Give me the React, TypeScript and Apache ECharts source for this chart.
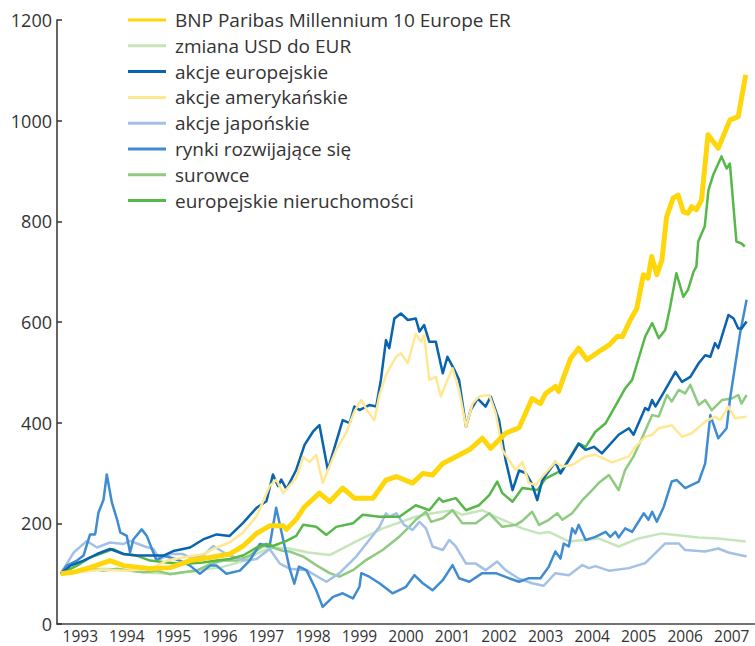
import React, { useEffect, useRef } from "react";
import * as echarts from "echarts";

const yearLabels = ["1993","1994","1995","1996","1997","1998","1999","2000","2001","2002","2003","2004","2005","2006","2007"];

const bnp: number[][] = [[1993.08,100],[1993.4,104],[1993.71,112],[1994.14,126],[1994.43,116],[1995.0,110],[1995.43,112],[1995.86,126],[1996.29,132],[1996.71,139],[1997.0,155],[1997.29,180],[1997.57,195],[1997.86,195],[1997.93,188],[1998.14,208],[1998.32,233],[1998.64,260],[1998.86,243],[1999.14,270],[1999.39,250],[1999.79,250],[2000.07,286],[2000.29,293],[2000.64,280],[2000.86,299],[2001.07,296],[2001.29,319],[2001.5,329],[2001.86,346],[2002.14,369],[2002.32,349],[2002.64,379],[2002.93,390],[2003.21,448],[2003.39,438],[2003.5,458],[2003.71,472],[2003.78,462],[2003.89,491],[2004.04,528],[2004.21,548],[2004.39,525],[2004.64,541],[2004.86,554],[2005.04,571],[2005.15,571],[2005.32,604],[2005.46,627],[2005.6,694],[2005.7,687],[2005.78,730],[2005.89,694],[2006.0,723],[2006.1,809],[2006.24,846],[2006.35,852],[2006.46,819],[2006.56,816],[2006.64,829],[2006.74,823],[2006.85,842],[2006.99,972],[2007.21,945],[2007.46,1001],[2007.64,1008],[2007.8,1091]];

const usdEur: number[][] = [[1993.08,100],[1993.5,105],[1994.0,110],[1994.5,107],[1995.0,102],[1995.5,100],[1996.0,107],[1996.5,112],[1997.0,125],[1997.3,140],[1997.6,152],[1998.0,150],[1998.4,142],[1998.86,137],[1999.43,164],[2000.0,190],[2000.71,213],[2001.07,220],[2001.5,226],[2001.71,217],[2002.14,226],[2002.43,213],[2003.0,190],[2003.36,180],[2003.57,183],[2004.0,164],[2004.64,170],[2005.07,154],[2005.5,170],[2006.0,180],[2006.29,177],[2006.79,172],[2007.21,170],[2007.8,164]];

const euStocks: number[][] = [[1993.08,100],[1993.29,116],[1993.57,126],[1993.86,139],[1994.14,149],[1994.43,139],[1994.71,136],[1995.0,136],[1995.29,136],[1995.5,145],[1995.86,152],[1996.14,168],[1996.43,178],[1996.71,175],[1997.0,201],[1997.29,231],[1997.5,244],[1997.64,297],[1997.75,274],[1997.82,287],[1997.93,268],[1998.14,306],[1998.32,356],[1998.5,382],[1998.64,395],[1998.82,306],[1999.14,405],[1999.29,399],[1999.39,432],[1999.5,425],[1999.71,435],[1999.86,432],[1999.96,485],[2000.07,564],[2000.14,548],[2000.25,607],[2000.39,617],[2000.54,604],[2000.71,607],[2000.79,581],[2000.89,594],[2001.0,561],[2001.14,561],[2001.29,498],[2001.39,531],[2001.54,505],[2001.64,485],[2001.79,392],[2001.89,425],[2002.04,448],[2002.21,432],[2002.32,452],[2002.5,405],[2002.64,326],[2002.79,266],[2002.93,305],[2003.07,300],[2003.2,280],[2003.32,246],[2003.43,286],[2003.71,322],[2003.82,299],[2004.07,336],[2004.21,358],[2004.36,346],[2004.54,352],[2004.71,339],[2005.07,376],[2005.29,389],[2005.39,376],[2005.64,429],[2005.71,425],[2005.79,445],[2005.86,432],[2006.07,465],[2006.29,501],[2006.43,481],[2006.61,491],[2006.79,518],[2006.93,534],[2007.04,531],[2007.14,558],[2007.21,548],[2007.43,614],[2007.54,607],[2007.64,587],[2007.71,587],[2007.82,601]];

const usStocks: number[][] = [[1993.08,100],[1993.5,104],[1994.0,108],[1994.5,106],[1995.0,110],[1995.36,126],[1995.71,132],[1996.14,139],[1996.43,152],[1996.71,162],[1997.0,182],[1997.29,214],[1997.57,274],[1997.71,287],[1997.86,260],[1998.14,290],[1998.29,332],[1998.43,322],[1998.57,336],[1998.71,280],[1999.0,346],[1999.21,379],[1999.39,422],[1999.54,445],[1999.68,422],[1999.82,405],[1999.93,455],[2000.07,495],[2000.29,531],[2000.39,538],[2000.54,518],[2000.71,577],[2000.82,561],[2000.89,574],[2001.0,485],[2001.14,491],[2001.25,452],[2001.36,478],[2001.5,508],[2001.64,465],[2001.79,392],[2001.93,438],[2002.07,452],[2002.29,455],[2002.43,418],[2002.57,346],[2002.71,326],[2002.86,306],[2003.0,322],[2003.14,280],[2003.29,276],[2003.43,293],[2003.71,322],[2003.86,313],[2004.07,316],[2004.36,333],[2004.57,336],[2004.93,321],[2005.29,333],[2005.43,352],[2005.64,372],[2005.79,376],[2005.93,389],[2006.21,395],[2006.43,372],[2006.64,379],[2006.93,402],[2007.14,412],[2007.25,405],[2007.43,432],[2007.57,409],[2007.82,412]];

const jpStocks: number[][] = [[1993.08,100],[1993.36,142],[1993.64,165],[1993.86,152],[1994.14,162],[1994.43,159],[1994.57,165],[1994.86,155],[1995.07,149],[1995.21,129],[1995.43,139],[1995.71,139],[1995.86,132],[1996.14,136],[1996.36,155],[1996.64,139],[1997.0,126],[1997.29,129],[1997.57,149],[1997.79,120],[1998.0,110],[1998.36,107],[1998.79,84],[1999.07,101],[1999.43,134],[1999.71,167],[1999.93,193],[2000.07,220],[2000.14,213],[2000.29,220],[2000.46,197],[2000.64,187],[2000.79,203],[2000.93,190],[2001.07,154],[2001.29,147],[2001.43,167],[2001.57,154],[2001.79,120],[2002.0,120],[2002.21,107],[2002.46,124],[2002.64,107],[2002.93,90],[2003.21,81],[2003.46,76],[2003.71,101],[2004.0,97],[2004.29,117],[2004.43,111],[2004.57,115],[2004.86,106],[2005.29,111],[2005.64,121],[2005.86,141],[2006.07,160],[2006.36,160],[2006.5,147],[2006.93,144],[2007.21,150],[2007.43,142],[2007.82,134]];

const emerging: number[][] = [[1993.08,100],[1993.21,116],[1993.43,126],[1993.57,136],[1993.71,178],[1993.82,178],[1993.89,221],[1994.0,247],[1994.07,297],[1994.18,241],[1994.29,208],[1994.36,182],[1994.5,175],[1994.57,142],[1994.64,168],[1994.82,188],[1994.93,175],[1995.07,142],[1995.14,126],[1995.29,136],[1995.43,132],[1995.64,126],[1995.86,116],[1996.07,100],[1996.29,116],[1996.43,116],[1996.64,100],[1996.93,106],[1997.14,126],[1997.36,159],[1997.57,155],[1997.71,231],[1997.86,168],[1998.0,110],[1998.1,80],[1998.2,114],[1998.36,107],[1998.57,67],[1998.71,34],[1998.93,54],[1999.14,61],[1999.36,51],[1999.5,74],[1999.54,101],[1999.71,94],[1999.93,81],[2000.21,61],[2000.5,74],[2000.68,97],[2000.86,81],[2001.07,67],[2001.29,87],[2001.5,117],[2001.64,91],[2001.86,84],[2002.14,101],[2002.43,101],[2002.71,91],[2002.93,84],[2003.14,91],[2003.39,91],[2003.57,114],[2003.71,144],[2003.82,130],[2003.89,160],[2004.0,154],[2004.07,190],[2004.14,180],[2004.21,197],[2004.36,167],[2004.57,173],[2004.79,183],[2004.89,173],[2005.0,183],[2005.07,172],[2005.21,190],[2005.36,183],[2005.61,220],[2005.71,207],[2005.79,223],[2005.89,203],[2006.04,233],[2006.21,283],[2006.32,286],[2006.5,270],[2006.79,283],[2006.93,319],[2007.04,415],[2007.21,369],[2007.39,389],[2007.46,445],[2007.68,578],[2007.82,644]];

const commodities: number[][] = [[1993.08,100],[1993.43,103],[1993.71,110],[1994.0,106],[1994.29,110],[1994.57,106],[1994.86,103],[1995.14,106],[1995.43,99],[1995.71,103],[1996.0,106],[1996.29,119],[1996.57,126],[1996.86,126],[1997.14,136],[1997.43,155],[1997.64,152],[1997.86,145],[1998.0,144],[1998.29,134],[1998.57,117],[1998.86,101],[1999.07,94],[1999.36,107],[1999.64,127],[2000.0,147],[2000.36,174],[2000.57,193],[2000.71,207],[2000.93,223],[2001.04,203],[2001.29,210],[2001.5,226],[2001.71,200],[2002.0,200],[2002.29,220],[2002.57,193],[2002.86,197],[2003.0,205],[2003.21,223],[2003.36,197],[2003.57,207],[2003.75,220],[2003.86,207],[2004.07,220],[2004.29,246],[2004.5,266],[2004.64,280],[2004.86,296],[2005.07,266],[2005.21,306],[2005.39,333],[2005.57,369],[2005.79,415],[2005.93,412],[2006.11,455],[2006.21,442],[2006.36,465],[2006.5,458],[2006.61,475],[2006.79,435],[2006.93,445],[2007.07,425],[2007.29,445],[2007.5,448],[2007.64,455],[2007.71,438],[2007.82,455]];

const realEstate: number[][] = [[1993.08,100],[1993.43,116],[1993.71,132],[1994.0,142],[1994.21,149],[1994.43,139],[1994.71,136],[1995.0,126],[1995.36,122],[1995.71,119],[1996.14,122],[1996.43,126],[1996.71,129],[1997.0,136],[1997.29,152],[1997.5,159],[1997.64,155],[1997.93,165],[1998.14,175],[1998.29,197],[1998.57,193],[1998.79,177],[1999.0,193],[1999.36,200],[1999.57,217],[1999.93,213],[2000.36,213],[2000.71,236],[2001.0,226],[2001.21,250],[2001.29,243],[2001.57,250],[2001.79,226],[2002.07,236],[2002.29,256],[2002.46,283],[2002.57,260],[2002.79,243],[2003.0,270],[2003.32,266],[2003.5,289],[2003.86,306],[2004.14,349],[2004.21,359],[2004.36,352],[2004.57,382],[2004.79,399],[2005.07,445],[2005.21,468],[2005.36,485],[2005.5,528],[2005.64,571],[2005.79,598],[2005.93,568],[2006.07,584],[2006.17,627],[2006.31,697],[2006.46,650],[2006.56,664],[2006.68,700],[2006.74,710],[2006.78,760],[2006.92,790],[2007.0,862],[2007.1,892],[2007.28,929],[2007.39,905],[2007.46,915],[2007.6,760],[2007.71,756],[2007.78,750]];

const names = [
  "BNP Paribas Millennium 10 Europe ER",
  "zmiana USD do EUR",
  "akcje europejskie",
  "akcje amerykańskie",
  "akcje japońskie",
  "rynki rozwijające się",
  "surowce",
  "europejskie nieruchomości",
];

export default function App() {
  const ref = useRef<HTMLDivElement>(null);
  useEffect(() => {
    document.body.style.margin = "0";
    const chart = echarts.init(ref.current!, undefined, { renderer: "svg" });
    const font = "'Open Sans', 'Noto Sans', sans-serif";
    const mk = (name: string, data: number[][], color: string, width: number, z: number) => ({
      name,
      type: "line",
      xAxisIndex: 1,
      data,
      showSymbol: false,
      symbol: "none",
      z,
      lineStyle: { color, width, join: "round" },
      itemStyle: { color },
    });
    chart.setOption({
      animation: false,
      grid: { left: 57, top: 20, width: 700, height: 604, containLabel: false },
      legend: {
        orient: "vertical",
        left: 123,
        top: 5,
        icon: "rect",
        itemWidth: 38,
        itemHeight: 3,
        itemGap: 5.8,
        data: names,
        textStyle: { fontFamily: font, fontSize: 19, color: "#333", lineHeight: 20, padding: [0, 0, 0, 4] },
      },
      xAxis: [
        {
          type: "category",
          data: yearLabels,
          boundaryGap: true,
          axisLine: { lineStyle: { color: "#444", width: 1.5 } },
          axisTick: { inside: true, length: 8, interval: 0, lineStyle: { color: "#444", width: 1.5 } },
          axisLabel: { fontFamily: font, fontSize: 15.5, lineHeight: 16, color: "#333", margin: 4, interval: 0 },
          splitLine: { show: false },
        },
        {
          type: "value",
          min: 1993,
          max: 2008,
          show: false,
          splitLine: { show: false },
        },
      ],
      yAxis: {
        type: "value",
        min: 0,
        max: 1200,
        interval: 200,
        axisLine: { show: true, lineStyle: { color: "#333", width: 1.5 } },
        axisTick: { show: true, inside: true, length: 5, lineStyle: { color: "#333", width: 1.5 } },
        axisLabel: { fontFamily: font, fontSize: 18, color: "#333", margin: 5, formatter: (v: number) => String(v) },
        splitLine: { show: false },
      },
      series: [
        mk(names[1], usdEur, "#C6E5BB", 2.5, 2),
        mk(names[6], commodities, "#8ECB80", 2.5, 3),
        mk(names[4], jpStocks, "#A3C0E6", 2.5, 4),
        mk(names[5], emerging, "#3F8CD2", 2.5, 5),
        mk(names[7], realEstate, "#55B848", 2.5, 6),
        mk(names[2], euStocks, "#0A63AE", 2.5, 7),
        mk(names[3], usStocks, "#FFE894", 2.5, 8),
        mk(names[0], bnp, "#FFD60A", 5, 9),
      ],
    });
    return () => chart.dispose();
  }, []);
  return <div ref={ref} style={{ width: 755, height: 646 }} />;
}
